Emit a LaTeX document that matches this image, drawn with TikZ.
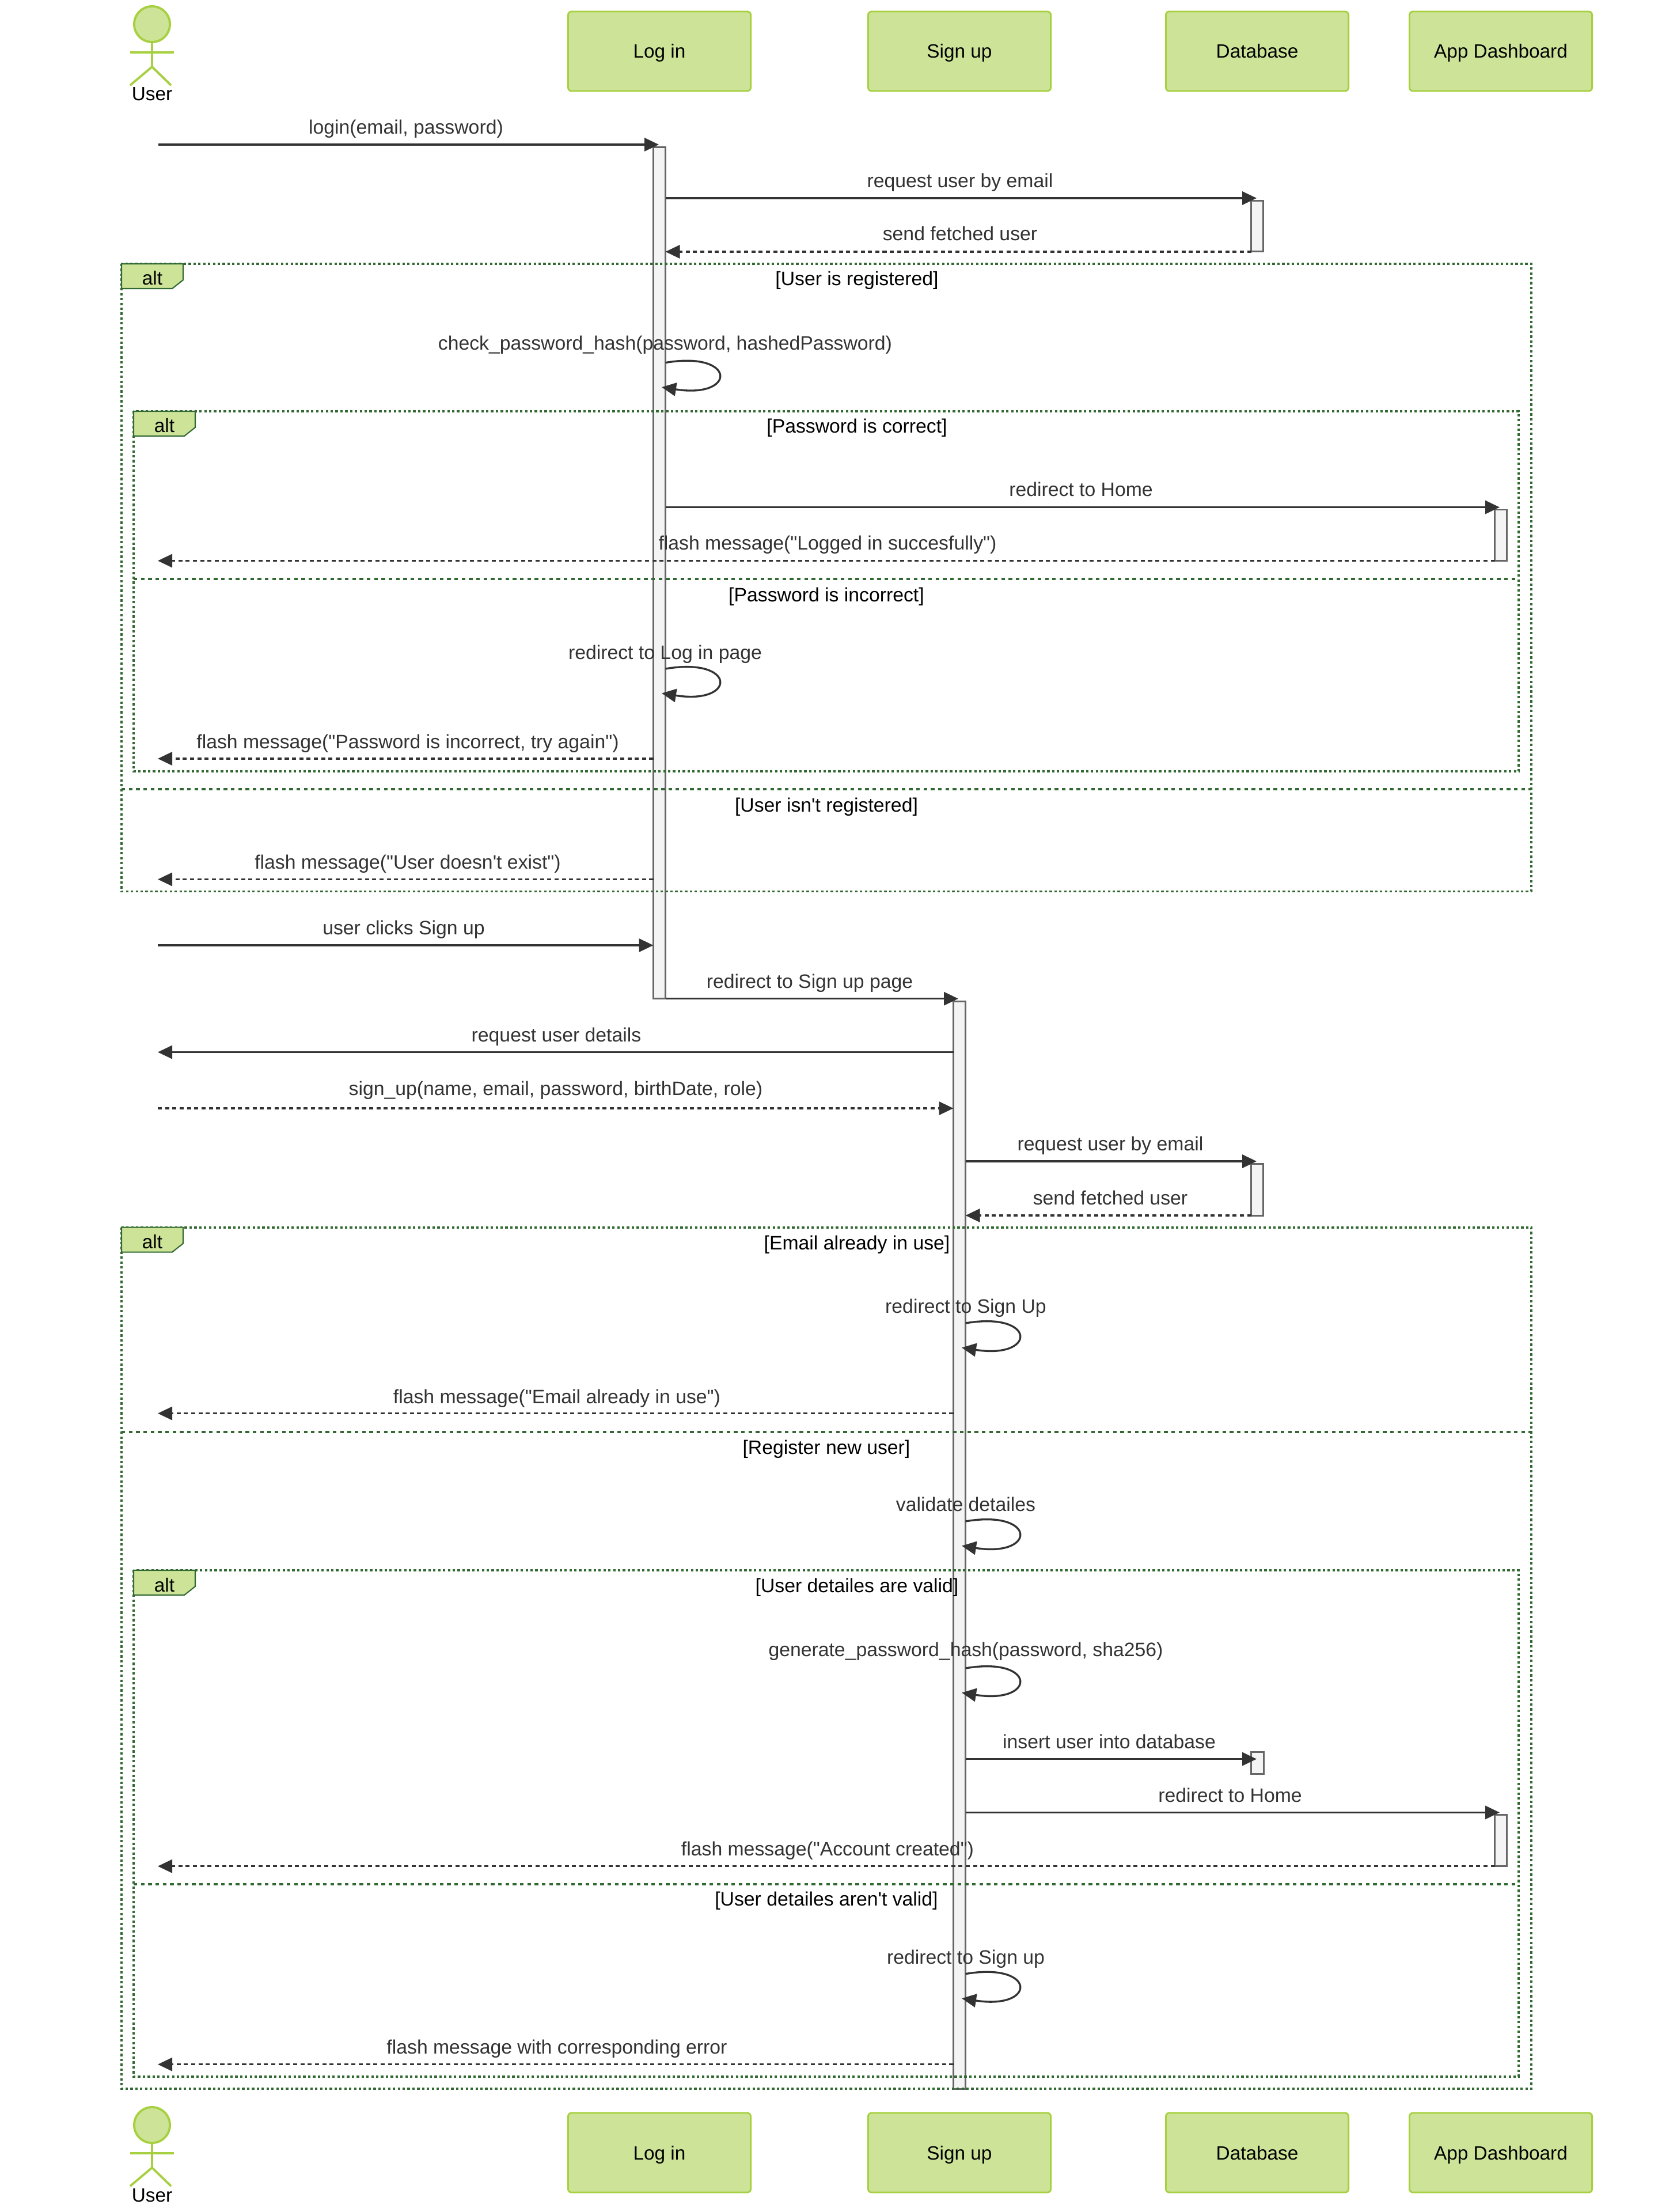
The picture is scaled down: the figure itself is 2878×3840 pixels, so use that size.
\documentclass[tikz,border=0pt]{standalone}
\usepackage{fontspec}
\usetikzlibrary{arrows.meta,calc}
\newfontfamily\dfont{Liberation Sans}
\definecolor{lifec}{HTML}{A6D040}
\definecolor{fillc}{HTML}{CDE498}
\definecolor{framec}{HTML}{326932}
\definecolor{msgc}{HTML}{333333}
\definecolor{actc}{HTML}{F4F4F4}
\definecolor{actb}{HTML}{666666}
\pgfdeclarelayer{bg}
\pgfsetlayers{bg,main}
\tikzset{
  px/.style={x=0.01cm,y=-0.01cm},
  boxfont/.style={font=\dfont\fontsize{9.48pt}{11pt}\selectfont},
  dtext/.style={font=\dfont\fontsize{9.6pt}{11pt}\selectfont},
  actorbox/.style={boxfont,draw=lifec,fill=fillc,line width=0.8pt,rounded corners=1.7pt,minimum width=3.17cm,minimum height=1.38cm,inner sep=0pt,text height=0.30cm,text depth=0.06cm,text=black},
  lifeln/.style={draw=lifec,line width=1pt},
  actorln/.style={draw=lifec,line width=1.1pt},
  actorhead/.style={circle,draw=lifec,fill=fillc,line width=1.1pt,minimum size=0.62cm,inner sep=0pt},
  actorname/.style={boxfont,text=black,anchor=base,inner sep=0pt},
  actbar/.style={draw=actb,fill=actc,line width=0.85pt},
  framedot/.style={draw=framec,line width=1.1pt,dash pattern=on 1.2pt off 1.2pt},
  framedash/.style={draw=framec,line width=1.1pt,dash pattern=on 1.8pt off 1.8pt},
  alttag/.style={draw=framec,fill=fillc,line width=0.6pt},
  guardtxt/.style={dtext,text=black,anchor=base,inner sep=0pt},
  alttxt/.style={boxfont,text=black,anchor=base,inner sep=0pt},
  msgtxt/.style={dtext,text=msgc,anchor=base,inner sep=0pt},
  solidmsg/.style={draw=msgc,line width=0.95pt,-{Triangle[length=0.25cm,width=0.23cm]}},
  dashmsg/.style={draw=msgc,line width=0.95pt,dash pattern=on 2pt off 1.6pt,-{Triangle[length=0.25cm,width=0.23cm]}},
  loopmsg/.style={draw=msgc,line width=0.95pt,-{Triangle[length=0.25cm,width=0.23cm]}},
}
% #1 id, #2 style, #3 x from, #4 x to, #5 line y, #6 label x, #7 label baseline y, #8 text
\newcommand\seqmsg[8]{%
  \coordinate (m#1a) at (#3,#5);
  \coordinate (m#1b) at (#4,#5);
  \draw[#2] (m#1a) -- (m#1b);
  \node[msgtxt] (m#1t) at (#6,#7) {#8};
}
% #1 id, #2 x, #3 y start, #4 baseline y, #5 label x, #6 text
\newcommand\seqself[6]{%
  \coordinate (s#1a) at (#2,#3);
  \coordinate (s#1b) at ($(#2-6.5,#3+42.5)$);
  \draw[loopmsg] (s#1a) .. controls +(124,-21) and +(130.5,20.5) .. (s#1b);
  \node[msgtxt] (s#1t) at (#5,#4) {#6};
}
% #1 id, #2 x left, #3 x right, #4 y top, #5 y bottom, #6 y else
\newcommand\seqframe[6]{%
  \coordinate (f#1tl) at (#2,#4);
  \coordinate (f#1br) at (#3,#5);
  \coordinate (f#1el) at (#2,#6);
  \coordinate (f#1er) at (#3,#6);
  \draw[framedot] (f#1tl) rectangle (f#1br);
  \draw[framedash] (f#1el) -- (f#1er);
  \draw[alttag] (#2,#4) -- (#2+107,#4) -- (#2+107,#4+28) -- (#2+88,#4+43) -- (#2,#4+43) -- cycle;
  \node[alttxt] (f#1alt) at (#2+53.5,#4+37) {alt};
}
\begin{document}
\begin{tikzpicture}[px]
\useasboundingbox (0,0) rectangle (2878,3840);
\fill[white] (0,0) rectangle (2878,3840);
% actors
\node[actorbox] (tlogin) at (1145,89) {Log in};
\node[actorbox] (tsign) at (1666,89) {Sign up};
\node[actorbox] (tdb) at (2183,89) {Database};
\node[actorbox] (tapp) at (2606,89) {App Dashboard};
\node[actorbox] (blogin) at (1145,3737) {Log in};
\node[actorbox] (bsign) at (1666,3737) {Sign up};
\node[actorbox] (bdb) at (2183,3737) {Database};
\node[actorbox] (bapp) at (2606,3737) {App Dashboard};
% stick figures
\node[actorhead] (thead) at (264,42) {};
\draw[actorln] (thead.south) -- (264,116) coordinate (thip);
\draw[actorln] (226,91) -- (302,91);
\draw[actorln] (226,148) -- (thip) -- (297,148);
\node[actorname] (tuser) at (264,175) {User};
\coordinate (tlife) at (264,190);
\node[actorhead] (bhead) at (264,3689) {};
\draw[actorln] (bhead.south) -- (264,3763) coordinate (bhip);
\draw[actorln] (226,3738) -- (302,3738);
\draw[actorln] (226,3795) -- (bhip) -- (297,3795);
\node[actorname] (buser) at (264,3822) {User};
% lifelines
\begin{pgfonlayer}{bg}
\draw[lifeln] (tlife) -- (bhead.north);
\draw[lifeln] (tlogin) -- (blogin);
\draw[lifeln] (tsign) -- (bsign);
\draw[lifeln] (tdb) -- (bdb);
\draw[lifeln] (tapp) -- (bapp);
\end{pgfonlayer}
% activations
\draw[actbar] (1134.5,255.5) rectangle (1155.5,1733.7);
\draw[actbar] (1655.5,1738) rectangle (1676.5,3626);
\draw[actbar] (2172.5,348.6) rectangle (2193.5,437);
\draw[actbar] (2172.5,2020.6) rectangle (2193.5,2110);
\draw[actbar] (2172.5,3041) rectangle (2194.5,3079.6);
\draw[actbar] (2595.5,885) rectangle (2616.5,973.5);
\draw[actbar] (2595.5,3150.5) rectangle (2616.5,3239.8);
% frames
\seqframe{oa}{211}{2659}{458}{1547.5}{1370}
\seqframe{ia}{232}{2637}{714}{1339}{1005}
\seqframe{ob}{211}{2659}{2130.6}{3626}{2486}
\seqframe{ib}{232}{2637}{2726}{3604.7}{3270.8}
\node[guardtxt] (g1) at (1488,496) {[User is registered]};
\node[guardtxt] (g2) at (1488,752) {[Password is correct]};
\node[guardtxt] (g3) at (1435,1044) {[Password is incorrect]};
\node[guardtxt] (g4) at (1435,1409) {[User isn't registered]};
\node[guardtxt] (g5) at (1488,2169) {[Email already in use]};
\node[guardtxt] (g6) at (1435,2524) {[Register new user]};
\node[guardtxt] (g7) at (1488,2764) {[User detailes are valid]};
\node[guardtxt] (g8) at (1435,3308.6) {[User detailes aren't valid]};
% messages
\seqmsg{1}{solidmsg}{274.5}{1144}{251}{705}{233}{login(email, password)}
\seqmsg{2}{solidmsg}{1155.5}{2182}{344}{1667}{326}{request user by email}
\seqmsg{3}{dashmsg}{2172.5}{1155.5}{437}{1667}{418}{send fetched user}
\seqself{1}{1155.5}{629.6}{608}{1155}{check\_password\_hash(password, hashedPassword)}
\seqmsg{4}{solidmsg}{1155.5}{2604}{880.6}{1877}{862}{redirect to Home}
\seqmsg{5}{dashmsg}{2595.5}{274}{973.5}{1437}{955}{flash message("Logged in succesfully")}
\seqself{2}{1155.5}{1161}{1144}{1155}{redirect to Log in page}
\seqmsg{6}{dashmsg}{1134.5}{274}{1317}{708}{1299.5}{flash message("Password is incorrect, try again")}
\seqmsg{7}{dashmsg}{1134.5}{274}{1526.5}{708}{1508}{flash message("User doesn't exist")}
\seqmsg{8}{solidmsg}{274}{1134.5}{1641}{701}{1622}{user clicks Sign up}
\seqmsg{9}{solidmsg}{1155.5}{1664}{1733.7}{1406}{1715}{redirect to Sign up page}
\seqmsg{10}{solidmsg}{1655.5}{274}{1826.5}{966}{1808}{request user details}
\seqmsg{11}{dashmsg}{274}{1655.5}{1924}{965}{1901.5}{sign\_up(name, email, password, birthDate, role)}
\seqmsg{12}{solidmsg}{1676.5}{2182}{2016}{1928}{1997}{request user by email}
\seqmsg{13}{dashmsg}{2172.5}{1676.5}{2110}{1928}{2091}{send fetched user}
\seqself{3}{1676.5}{2297}{2279.6}{1677}{redirect to Sign Up}
\seqmsg{14}{dashmsg}{1655.5}{274}{2453.6}{967}{2436}{flash message("Email already in use")}
\seqself{4}{1676.5}{2641}{2623}{1677}{validate detailes}
\seqself{5}{1676.5}{2896}{2875.5}{1677}{generate\_password\_hash(password, sha256)}
\seqmsg{15}{solidmsg}{1676.5}{2182}{3053.6}{1926}{3035}{insert user into database}
\seqmsg{16}{solidmsg}{1676.5}{2604}{3146.4}{2136}{3128}{redirect to Home}
\seqmsg{17}{dashmsg}{2595.5}{274}{3239.7}{1437}{3221}{flash message("Account created")}
\seqself{6}{1676.5}{3426.6}{3409}{1677}{redirect to Sign up}
\seqmsg{18}{dashmsg}{1655.5}{274}{3583.7}{967}{3565}{flash message with corresponding error}
\end{tikzpicture}
\end{document}
